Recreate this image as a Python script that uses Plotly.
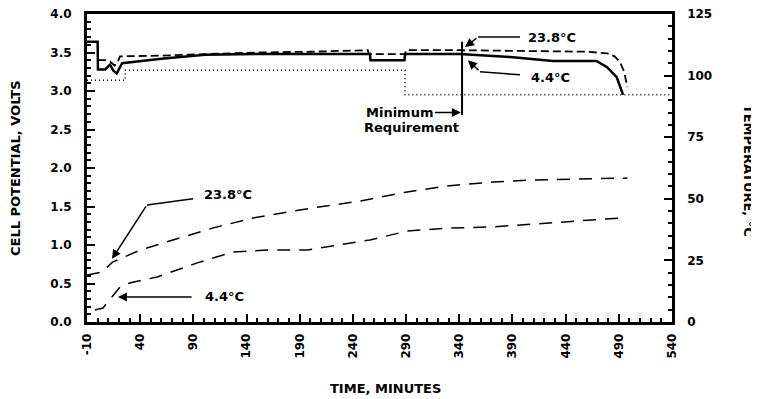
import plotly.graph_objects as go

# ---------------- data ----------------
# Cell potential (volts) vs time (minutes)
v44_time = [-10, 0, 0.3, 7, 11.6, 15, 18, 21, 23, 60, 101, 150, 200, 254, 256, 256.5,
            288.5, 289, 340, 388, 428, 469, 479, 488, 494]
v44_volts = [3.64, 3.64, 3.28, 3.28, 3.34, 3.26, 3.23, 3.30, 3.36, 3.42, 3.47, 3.48, 3.48,
             3.48, 3.48, 3.40, 3.40, 3.48, 3.48, 3.44, 3.39, 3.39, 3.31, 3.18, 2.95]

v238_time = [0.3, 7, 12, 16, 19, 21, 60, 101, 150, 200, 254, 255, 289, 290, 340, 400,
             460, 479, 486, 491, 495, 498]
v238_volts = [3.40, 3.40, 3.38, 3.33, 3.38, 3.45, 3.46, 3.48, 3.50, 3.51, 3.53, 3.48,
              3.48, 3.53, 3.53, 3.52, 3.51, 3.49, 3.45, 3.38, 3.25, 3.05]

req_time = [-10, 26, 26, 289, 289, 540]
req_volts = [3.14, 3.14, 3.27, 3.27, 2.95, 2.95]

# Temperature (deg C) vs time (minutes)
t238_time = [-10, 4, 14, 40, 65, 108, 146, 202, 247, 291, 328, 372, 404, 498]
t238_temp = [19.1, 20.3, 24.3, 29.2, 32.5, 38.1, 42.2, 46.3, 49.1, 52.8, 55.2, 56.8, 57.6, 58.4]

t44_time = [-2.5, 5, 21, 30, 56, 93, 127, 159, 197, 225, 256, 291, 328, 372, 422, 491]
t44_temp = [4.9, 5.7, 14.2, 15.8, 18.3, 23.9, 28.4, 29.2, 29.2, 31.2, 33.3, 36.9, 38.1,
            38.6, 40.2, 42.2]

x_tick_vals = [-10, 40, 90, 140, 190, 240, 290, 340, 390, 440, 490, 540]
x_tick_text = ["-10", "40", "90", "140", "190", "240", "290", "340", "390", "440", "490", "540"]

FONT = "DejaVu Sans"
fig = go.Figure()

fig.add_trace(go.Scatter(x=req_time, y=req_volts, mode="lines",
                         line=dict(color="black", width=1.5, dash="1px,3px"), yaxis="y"))
fig.add_trace(go.Scatter(x=v238_time, y=v238_volts, mode="lines",
                         line=dict(color="black", width=1.8, dash="8px,4px"), yaxis="y"))
fig.add_trace(go.Scatter(x=v44_time, y=v44_volts, mode="lines",
                         line=dict(color="black", width=2.5), yaxis="y"))
fig.add_trace(go.Scatter(x=t238_time, y=t238_temp, mode="lines",
                         line=dict(color="black", width=1.5, dash="13px,9px"), yaxis="y2"))
fig.add_trace(go.Scatter(x=t44_time, y=t44_temp, mode="lines",
                         line=dict(color="black", width=1.5, dash="13px,9px"), yaxis="y2"))

tickfont = dict(family=FONT, size=12, color="black", weight="bold")
labfont = dict(family=FONT, size=13, color="black", weight="bold")

# the page body adds an 8px offset; margins compensate for it
fig.update_layout(
    width=759, height=399,
    margin=dict(l=79, r=95, t=6, b=85),
    paper_bgcolor="white", plot_bgcolor="white",
    showlegend=False,
    xaxis=dict(range=[-10, 540], tickmode="array", tickvals=x_tick_vals, ticktext=x_tick_text,
               tickangle=-90, ticks="inside", ticklen=8, tickwidth=2, tickcolor="black",
               minor=dict(tick0=-10, dtick=10, ticks="inside", ticklen=4, tickwidth=1.5,
                          tickcolor="black"),
               showline=True, linecolor="black", linewidth=2.5, mirror=True, automargin=False,
               showgrid=False, zeroline=False, tickfont=tickfont, ticklabelstandoff=4,
               ticklabeloverflow="allow"),
    yaxis=dict(range=[0, 4], dtick=0.5, tickformat=".1f", ticks="inside", ticklen=8,
               tickwidth=2, tickcolor="black", automargin=False,
               minor=dict(dtick=0.1, ticks="inside", ticklen=4, tickwidth=1.5, tickcolor="black"),
               showline=True, linecolor="black", linewidth=3, mirror=True,
               showgrid=False, zeroline=False, tickfont=tickfont, ticklabelstandoff=10,
               ticklabeloverflow="allow"),
    yaxis2=dict(range=[0, 125], dtick=25, overlaying="y", side="right", ticks="inside",
                ticklen=8, tickwidth=2, tickcolor="black", automargin=False,
                minor=dict(dtick=5, ticks="inside", ticklen=4, tickwidth=1.5, tickcolor="black"),
                showline=True, linecolor="black", linewidth=2.5,
                showgrid=False, zeroline=False, tickfont=tickfont, ticklabelstandoff=10,
                ticklabeloverflow="allow"),
)

# axis titles
fig.add_annotation(text="CELL POTENTIAL, VOLTS", xref="paper", yref="paper", x=-0.1231, y=0.5,
                   textangle=-90, showarrow=False, font=labfont, xanchor="center", yanchor="middle")
fig.add_annotation(text="TEMPERATURE, °C", xref="paper", yref="paper", x=1.132, y=0.49,
                   textangle=90, showarrow=False, font=labfont, xanchor="center", yanchor="middle")
fig.add_annotation(text="TIME, MINUTES", xref="paper", yref="paper", x=0.51, y=-0.215,
                   showarrow=False, font=labfont, xanchor="center", yanchor="middle")

afont = dict(family=FONT, size=13, color="black", weight="bold")
line_style = dict(color="black", width=1.5)
arrow = dict(showarrow=True, arrowhead=2, arrowsize=1.2, arrowwidth=1.5, arrowcolor="black")

# temperature labels (lower part)
fig.add_annotation(text="23.8°C", x=122.6, y=1.65, xref="x", yref="y", showarrow=False, font=afont)
fig.add_shape(type="line", x0=89.7, y0=1.60, x1=46.4, y1=1.52, xref="x", yref="y", line=line_style)
fig.add_annotation(text="", x=13.5, y=0.82, ax=46.4, ay=1.52, xref="x", yref="y",
                   axref="x", ayref="y", **arrow)

fig.add_annotation(text="4.4°C", x=118.8, y=0.33, xref="x", yref="y", showarrow=False, font=afont)
fig.add_annotation(text="", x=19.1, y=0.325, ax=89.7, ay=0.325, xref="x", yref="y",
                   axref="x", ayref="y", **arrow)

# voltage labels (upper part)
fig.add_annotation(text="23.8°C", x=427.2, y=3.69, xref="x", yref="y", showarrow=False, font=afont)
fig.add_shape(type="line", x0=397.1, y0=3.70, x1=357.6, y1=3.70, xref="x", yref="y", line=line_style)
fig.add_annotation(text="", x=345.4, y=3.57, ax=357.6, ay=3.70, xref="x", yref="y",
                   axref="x", ayref="y", **arrow)

fig.add_annotation(text="4.4°C", x=425.3, y=3.17, xref="x", yref="y", showarrow=False, font=afont)
fig.add_shape(type="line", x0=397.1, y0=3.21, x1=359.5, y1=3.25, xref="x", yref="y", line=line_style)
fig.add_annotation(text="", x=348.2, y=3.40, ax=359.5, ay=3.25, xref="x", yref="y",
                   axref="x", ayref="y", **arrow)

# minimum requirement pointer
fig.add_shape(type="line", x0=342.6, y0=3.64, x1=342.6, y1=2.69, xref="x", yref="y",
              line=dict(color="black", width=2))
fig.add_annotation(text="Minimum", x=341.5, y=2.72, ax=-26, ay=0, xref="x", yref="y",
                   font=afont, xanchor="right", **arrow)
fig.add_annotation(text="Requirement", x=295, y=2.52, xref="x", yref="y", showarrow=False, font=afont)

fig.write_html("out.html")
